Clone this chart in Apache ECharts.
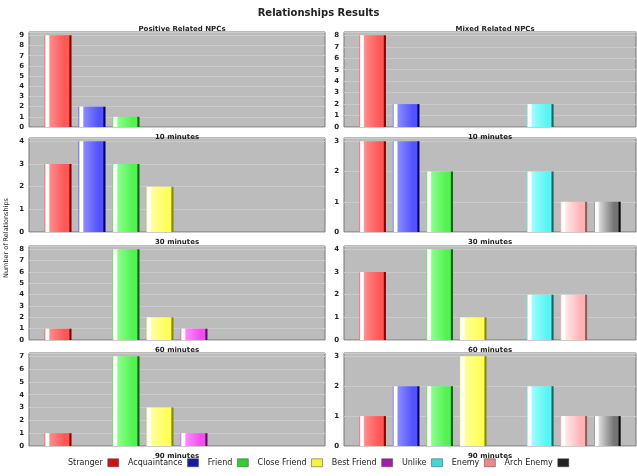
<!DOCTYPE html>
<html>
<head>
<meta charset="utf-8">
<script src="https://cdn.jsdelivr.net/npm/echarts@6/dist/echarts.min.js"></script>
<style>html,body{margin:0;padding:0;background:#fff;}#c{width:637px;height:476px;}</style>
</head>
<body>
<div id="c"></div>
<script>
const categories = ['Stranger','Acquaintance','Friend','Close Friend','Best Friend','Unlike','Enemy','Arch Enemy'];
const periods = ['10 minutes','30 minutes','60 minutes','90 minutes'];
// Positive Related NPCs
const positive10 = [9,2,1,0,0,0,0,0];
const positive30 = [3,4,3,2,0,0,0,0];
const positive60 = [1,0,8,2,1,0,0,0];
const positive90 = [1,0,7,3,1,0,0,0];
// Mixed Related NPCs
const mixed10 = [8,2,0,0,0,2,0,0];
const mixed30 = [3,3,2,0,0,2,1,1];
const mixed60 = [3,0,4,1,0,2,2,0];
const mixed90 = [1,2,2,3,0,2,1,1];
const positiveTop = [9,4,8,7];
const mixedTop = [8,3,4,3];

const positive = [positive10, positive30, positive60, positive90];
const mixed = [mixed10, mixed30, mixed60, mixed90];

const palette = [
  {light:'#ff8a8a', base:'#ff5656', dark:'#8a0000', legend:'#c81414'},
  {light:'#8a8aff', base:'#5252ff', dark:'#00007a', legend:'#1a1a9a'},
  {light:'#8aff8a', base:'#52f252', dark:'#0c6c0c', legend:'#33cc33'},
  {light:'#ffff9a', base:'#ffff5a', dark:'#8a8a00', legend:'#f4f440'},
  {light:'#ff8aff', base:'#f24cf2', dark:'#700070', legend:'#a020a8'},
  {light:'#9affff', base:'#5af4f4', dark:'#106a6a', legend:'#40d8d8'},
  {light:'#ffe8e8', base:'#ffb4b4', dark:'#9a5a5a', legend:'#e88a8a'},
  {light:'#d8d8d8', base:'#747474', dark:'#0a0a0a', legend:'#222222'}
];

function grad(p){
  return new echarts.graphic.LinearGradient(0,0,1,0,[
    {offset:0, color:p.base},
    {offset:0.05, color:'#ffffff'},
    {offset:0.15, color:'#ffffff'},
    {offset:0.2, color:p.light},
    {offset:0.75, color:p.base},
    {offset:0.9, color:p.base},
    {offset:0.94, color:p.dark},
    {offset:1, color:p.dark}
  ]);
}

const font = 'DejaVu Sans';
const tops = [32,138,246,353];
const heights = [95,94,94,93];
const grids = [], xAxes = [], yAxes = [], series = [];

function addPanel(data, topVal, gi, left, width, label){
  grids.push({left:left, width:width, top:tops[gi % 4], height:heights[gi % 4],
    show:true, backgroundColor:'#bcbcbc', borderColor:'#777', borderWidth:1});
  xAxes.push({type:'category', gridIndex:gi, data:['all'],
    axisLine:{show:false}, axisTick:{show:false}, axisLabel:{show:false},
    name:label, nameLocation:'middle', nameGap:7,
    nameTextStyle:{fontFamily:font, fontSize:7, fontWeight:'bold', color:'#222'}});
  yAxes.push({type:'value', gridIndex:gi, min:0, max:topVal/0.965, interval:1,
    axisLine:{show:false}, axisTick:{show:false},
    axisLabel:{fontFamily:font, fontSize:7, fontWeight:'bold', color:'#222', margin:5,
      formatter:function(v){return Math.abs(v-Math.round(v))<1e-6 ? String(Math.round(v)) : '';}},
    splitLine:{lineStyle:{color:'#cbcbcb', width:1}}});
  categories.forEach(function(c,i){
    series.push({type:'bar', name:c, xAxisIndex:gi, yAxisIndex:gi,
      data:[data[i]], barGap:'26%', barCategoryGap:'10.5%',
      itemStyle:{color:grad(palette[i])},
      emphasis:{disabled:true}, animation:false});
  });
}

for(let k=0;k<4;k++) addPanel(positive[k], positiveTop[k], k, 29, 296, periods[k]);
for(let k=0;k<4;k++) addPanel(mixed[k], mixedTop[k], 4+k, 344, 292, periods[k]);

const option = {
  animation:false,
  title:[
    {text:'Relationships Results', left:'center', top:3,
      textStyle:{fontFamily:font, fontSize:10, fontWeight:'bold', color:'#222'}},
    {text:'Positive Related NPCs', left:177, top:21, textAlign:'center',
      textStyle:{fontFamily:font, fontSize:7, fontWeight:'bold', color:'#222'}},
    {text:'Mixed Related NPCs', left:490, top:21, textAlign:'center',
      textStyle:{fontFamily:font, fontSize:7, fontWeight:'bold', color:'#222'}}
  ],
  legend:{
    bottom:4, left:'center', align:'right', itemWidth:11, itemHeight:8, itemGap:9,
    icon:'rect',
    textStyle:{fontFamily:font, fontSize:8, color:'#222'},
    data:categories.map(function(c,i){return {name:c, itemStyle:{color:palette[i].legend, borderColor:'#444', borderWidth:0.5}};})
  },
  graphic:[{type:'text', left:3, top:'center', rotation:Math.PI/2,
    style:{text:'Number of Relationships', fontFamily:font, fontSize:6.5, fill:'#222'}}],
  grid:grids, xAxis:xAxes, yAxis:yAxes, series:series
};
const chart = echarts.init(document.getElementById('c'), null, {renderer:'canvas'});
chart.setOption(option);
</script>
</body>
</html>
